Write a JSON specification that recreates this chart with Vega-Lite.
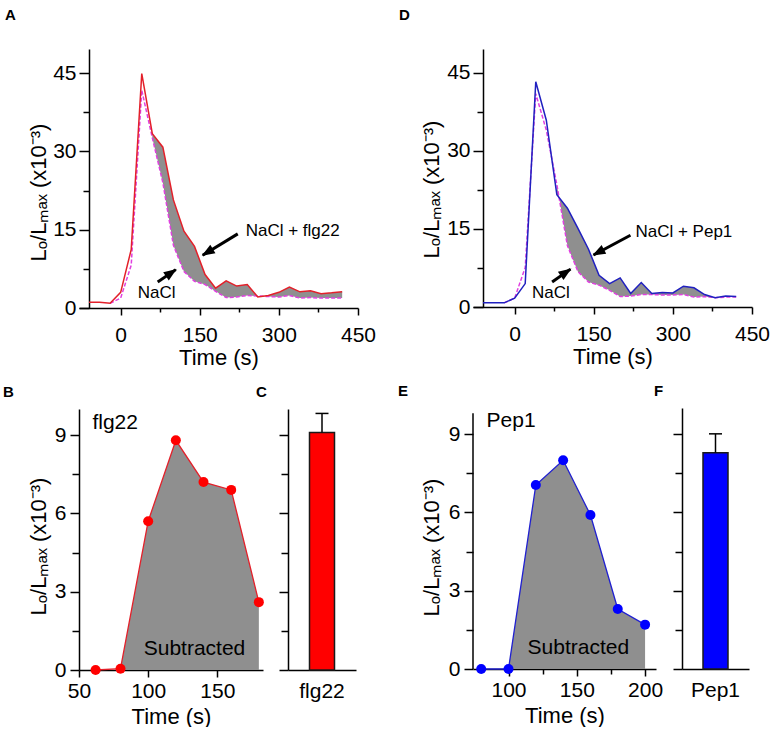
{
  "$schema": "https://vega.github.io/schema/vega-lite/v6.json",
  "background": "white",
  "padding": {"left": 3, "top": 8, "right": 0, "bottom": 0},
  "config": {
    "font": "Liberation Sans",
    "view": {"stroke": null},
    "axis": {"domainColor": "black", "domainWidth": 1.5, "tickColor": "black", "tickWidth": 1.5, "labelColor": "black", "titleColor": "black", "labelFont": "Liberation Sans", "titleFont": "Liberation Sans", "labelFontSize": 21, "titleFontSize": 22, "titleFontWeight": "normal", "grid": false, "labelFlush": false, "labelOverlap": false},
    "title": {"font": "Liberation Sans", "fontSize": 15, "fontWeight": "bold", "anchor": "start", "frame": "group", "color": "black"}
  },
  "datasets": {
    "tA": [
      {"t": -60, "treat": 1.1, "nacl": null},
      {"t": -40, "treat": 1.1, "nacl": null},
      {"t": -20, "treat": 0.9, "nacl": 0.9},
      {"t": 0, "treat": 3.0, "nacl": 1.9},
      {"t": 20, "treat": 11.2, "nacl": 8.2},
      {"t": 40, "treat": 44.9, "nacl": 41.7},
      {"t": 60, "treat": 33.4, "nacl": 32.6},
      {"t": 80, "treat": 30.8, "nacl": 24.0},
      {"t": 100, "treat": 20.7, "nacl": 12.0},
      {"t": 120, "treat": 14.7, "nacl": 7.0},
      {"t": 140, "treat": 11.8, "nacl": 5.1},
      {"t": 160, "treat": 6.4, "nacl": 4.5},
      {"t": 180, "treat": 3.8, "nacl": 3.2},
      {"t": 200, "treat": 5.2, "nacl": 2.0},
      {"t": 220, "treat": 4.2, "nacl": 2.1},
      {"t": 240, "treat": 4.5, "nacl": 2.4},
      {"t": 260, "treat": 2.1, "nacl": 2.3},
      {"t": 280, "treat": 2.4, "nacl": 2.2},
      {"t": 300, "treat": 3.0, "nacl": 2.1},
      {"t": 320, "treat": 4.0, "nacl": 2.4},
      {"t": 340, "treat": 3.1, "nacl": 1.9},
      {"t": 360, "treat": 3.3, "nacl": 2.0},
      {"t": 380, "treat": 2.75, "nacl": 1.9},
      {"t": 400, "treat": 2.9, "nacl": 1.9},
      {"t": 420, "treat": 3.1, "nacl": 1.9}
    ],
    "tD": [
      {"t": -60, "treat": 0.83, "nacl": null},
      {"t": -40, "treat": 0.8, "nacl": null},
      {"t": -20, "treat": 0.8, "nacl": 0.8},
      {"t": 0, "treat": 1.7, "nacl": 1.7},
      {"t": 20, "treat": 4.5, "nacl": 7.6},
      {"t": 40, "treat": 43.3, "nacl": 41.0},
      {"t": 60, "treat": 35.9, "nacl": 34.0},
      {"t": 80, "treat": 21.6, "nacl": 23.5},
      {"t": 100, "treat": 19.0, "nacl": 11.8},
      {"t": 120, "treat": 15.1, "nacl": 6.8},
      {"t": 140, "treat": 11.1, "nacl": 4.8},
      {"t": 160, "treat": 6.1, "nacl": 4.2},
      {"t": 180, "treat": 4.5, "nacl": 3.2},
      {"t": 200, "treat": 5.6, "nacl": 2.0},
      {"t": 220, "treat": 2.6, "nacl": 2.1},
      {"t": 240, "treat": 4.7, "nacl": 2.4},
      {"t": 260, "treat": 2.6, "nacl": 2.4},
      {"t": 280, "treat": 2.8, "nacl": 2.3},
      {"t": 300, "treat": 2.7, "nacl": 2.3},
      {"t": 320, "treat": 4.0, "nacl": 2.4},
      {"t": 340, "treat": 3.7, "nacl": 1.9},
      {"t": 360, "treat": 2.4, "nacl": 2.0},
      {"t": 380, "treat": 1.8, "nacl": 1.8},
      {"t": 400, "treat": 2.1, "nacl": 1.9},
      {"t": 420, "treat": 2.0, "nacl": 1.9}
    ],
    "sB": [
      {"t": 62, "v": 0},
      {"t": 80, "v": 0.05},
      {"t": 100, "v": 5.7},
      {"t": 120, "v": 8.8},
      {"t": 140, "v": 7.2},
      {"t": 160, "v": 6.9},
      {"t": 180, "v": 2.6}
    ],
    "sE": [
      {"t": 80, "v": 0},
      {"t": 100, "v": 0},
      {"t": 120, "v": 7.05},
      {"t": 140, "v": 8.0},
      {"t": 160, "v": 5.9},
      {"t": 180, "v": 2.3},
      {"t": 200, "v": 1.7}
    ]
  },
  "spacing": 22,
  "hconcat": [
    {
      "spacing": 17,
      "vconcat": [
        {
          "width": 279,
          "height": 259,
          "title": {"text": "A", "dx": -74, "offset": 26},
          "layer": [
            {
              "data": {"name": "tA"},
              "transform": [{"filter": "datum.t >= 60"}],
              "mark": {"type": "area", "color": "#8f8f8f", "opacity": 1},
              "encoding": {
                "x": {"field": "t", "type": "quantitative", "scale": {"domain": [-79, 450], "nice": false, "zero": false}, "axis": {"title": "Time (s)", "values": [0, 75, 150, 225, 300, 375, 450], "labelExpr": "datum.value % 150 === 0 ? datum.label : ''", "tickSize": {"condition": {"test": "datum.value % 150 === 0", "value": 7}, "value": 4}, "labelPadding": 9, "titlePadding": 2}},
                "y": {"field": "treat", "type": "quantitative", "scale": {"domain": [0, 49.6], "nice": false, "zero": false}, "axis": {"title": "Lₒ/Lₘₐₓ (x10⁻³)", "offset": -10, "titleX": -39, "titleY": 143, "values": [0, 7.5, 15, 22.5, 30, 37.5, 45], "labelExpr": "datum.value % 15 === 0 ? datum.label : ''", "tickSize": {"condition": {"test": "datum.value % 15 === 0", "value": 10}, "value": 6}, "labelPadding": 3}},
                "y2": {"field": "nacl"}
              }
            },
            {
              "data": {"name": "tA"},
              "mark": {"type": "line", "color": "#e040e0", "strokeWidth": 1.5, "strokeDash": [4, 2]},
              "encoding": {
                "x": {"field": "t", "type": "quantitative"},
                "y": {"field": "nacl", "type": "quantitative"}
              }
            },
            {
              "data": {"name": "tA"},
              "mark": {"type": "line", "color": "#e3202a", "strokeWidth": 1.5},
              "encoding": {
                "x": {"field": "t", "type": "quantitative"},
                "y": {"field": "treat", "type": "quantitative"}
              }
            },
            {
              "data": {"values": [{"t": 222, "v": 14.2, "t2": 155.5, "v2": 10.1}, {"t": 70.2, "v": 5.0, "t2": 104.5, "v2": 7.35}]},
              "mark": {"type": "rule", "color": "black", "strokeWidth": 3},
              "encoding": {
                "x": {"field": "t", "type": "quantitative"},
                "y": {"field": "v", "type": "quantitative"},
                "x2": {"field": "t2"},
                "y2": {"field": "v2"}
              }
            },
            {
              "data": {"values": [{"t": 153.8, "v": 10.0}]},
              "mark": {"type": "point", "shape": "M0,0 L0.38,1 L-0.38,1 Z", "size": 676, "filled": true, "color": "black", "opacity": 1, "angle": 238.6},
              "encoding": {
                "x": {"field": "t", "type": "quantitative"},
                "y": {"field": "v", "type": "quantitative"}
              }
            },
            {
              "data": {"values": [{"t": 106.3, "v": 7.47}]},
              "mark": {"type": "point", "shape": "M0,0 L0.38,1 L-0.38,1 Z", "size": 676, "filled": true, "color": "black", "opacity": 1, "angle": 55.6},
              "encoding": {
                "x": {"field": "t", "type": "quantitative"},
                "y": {"field": "v", "type": "quantitative"}
              }
            },
            {
              "data": {"values": [{"t": 237, "v": 14.7, "label": "NaCl + flg22"}]},
              "mark": {"type": "text", "align": "left", "baseline": "middle", "fontSize": 17, "color": "black"},
              "encoding": {
                "x": {"field": "t", "type": "quantitative"},
                "y": {"field": "v", "type": "quantitative"},
                "text": {"field": "label"}
              }
            },
            {
              "data": {"values": [{"t": 68.3, "v": 2.9, "label": "NaCl"}]},
              "mark": {"type": "text", "align": "center", "baseline": "middle", "fontSize": 17, "color": "black"},
              "encoding": {
                "x": {"field": "t", "type": "quantitative"},
                "y": {"field": "v", "type": "quantitative"},
                "text": {"field": "label"}
              }
            }
          ]
        },
        {
          "bounds": "flush",
          "spacing": 25,
          "hconcat": [
            {
              "width": 184,
              "height": 261,
              "title": {"text": "B", "dx": -76, "offset": 9},
              "layer": [
                {
                  "data": {"name": "sB"},
                  "transform": [{"filter": "datum.t >= 80"}],
                  "mark": {"type": "area", "color": "#8f8f8f", "opacity": 1},
                  "encoding": {
                    "x": {"field": "t", "type": "quantitative", "scale": {"domain": [50, 183], "nice": false, "zero": false}, "axis": {"title": "Time (s)", "values": [50, 75, 100, 125, 150, 175], "labelExpr": "datum.value % 50 === 0 ? datum.label : ''", "tickSize": {"condition": {"test": "datum.value % 50 === 0", "value": 7}, "value": 5}, "labelPadding": 3, "titlePadding": 5}},
                    "y": {"field": "v", "type": "quantitative", "scale": {"domain": [0, 10], "nice": false, "zero": false}, "axis": {"title": "Lₒ/Lₘₐₓ (x10⁻³)", "titleX": -29, "titleY": 137, "values": [0, 1.5, 3, 4.5, 6, 7.5, 9], "labelExpr": "datum.value % 3 === 0 ? datum.label : ''", "tickSize": {"condition": {"test": "datum.value % 3 === 0", "value": 9}, "value": 7}, "labelPadding": 4}},
                    "y2": {"datum": 0}
                  }
                },
                {
                  "data": {"name": "sB"},
                  "mark": {"type": "line", "color": "#e3202a", "strokeWidth": 1.3},
                  "encoding": {
                    "x": {"field": "t", "type": "quantitative"},
                    "y": {"field": "v", "type": "quantitative"}
                  }
                },
                {
                  "data": {"name": "sB"},
                  "mark": {"type": "point", "filled": true, "color": "#ff0000", "size": 100, "opacity": 1},
                  "encoding": {
                    "x": {"field": "t", "type": "quantitative"},
                    "y": {"field": "v", "type": "quantitative"}
                  }
                },
                {
                  "data": {"values": [{"t": 59.7, "v": 9.45, "label": "flg22"}]},
                  "mark": {"type": "text", "align": "left", "baseline": "middle", "fontSize": 21, "color": "black"},
                  "encoding": {
                    "x": {"field": "t", "type": "quantitative"},
                    "y": {"field": "v", "type": "quantitative"},
                    "text": {"field": "label"}
                  }
                },
                {
                  "data": {"values": [{"t": 133.5, "v": 0.8, "label": "Subtracted"}]},
                  "mark": {"type": "text", "align": "center", "baseline": "middle", "fontSize": 21, "color": "black"},
                  "encoding": {
                    "x": {"field": "t", "type": "quantitative"},
                    "y": {"field": "v", "type": "quantitative"},
                    "text": {"field": "label"}
                  }
                }
              ]
            },
            {
              "width": 68,
              "height": 261,
              "title": {"text": "C", "dx": -32, "offset": 9},
              "data": {"values": [{"g": "flg22", "mean": 9.1, "hi": 9.83}]},
              "layer": [
                {
                  "mark": {"type": "bar", "width": 25, "color": "#ff0000", "stroke": "#1a1a1a", "strokeWidth": 1.5},
                  "encoding": {
                    "x": {"field": "g", "type": "nominal", "scale": {"paddingInner": 0, "paddingOuter": 0}, "axis": {"title": null, "ticks": false, "tickSize": 0, "labelPadding": 10, "labelAngle": 0}},
                    "y": {"field": "mean", "type": "quantitative", "scale": {"domain": [0, 10], "nice": false, "zero": false}, "axis": {"title": null, "labels": false, "values": [0, 1.5, 3, 4.5, 6, 7.5, 9], "tickSize": {"condition": {"test": "datum.value % 3 === 0", "value": 9}, "value": 7}}}
                  }
                },
                {
                  "mark": {"type": "rule", "color": "black", "strokeWidth": 1.5},
                  "encoding": {
                    "x": {"field": "g", "type": "nominal"},
                    "y": {"field": "mean", "type": "quantitative"},
                    "y2": {"field": "hi"}
                  }
                },
                {
                  "mark": {"type": "tick", "orient": "horizontal", "size": 13, "thickness": 1.5, "color": "black", "opacity": 1},
                  "encoding": {
                    "x": {"field": "g", "type": "nominal"},
                    "y": {"field": "hi", "type": "quantitative"}
                  }
                }
              ]
            }
          ]
        }
      ]
    },
    {
      "spacing": 17,
      "vconcat": [
        {
          "width": 279,
          "height": 258,
          "title": {"text": "D", "dx": -74, "offset": 26},
          "layer": [
            {
              "data": {"name": "tD"},
              "transform": [{"filter": "datum.t >= 80"}],
              "mark": {"type": "area", "color": "#8f8f8f", "opacity": 1},
              "encoding": {
                "x": {"field": "t", "type": "quantitative", "scale": {"domain": [-79, 450], "nice": false, "zero": false}, "axis": {"title": "Time (s)", "values": [0, 75, 150, 225, 300, 375, 450], "labelExpr": "datum.value % 150 === 0 ? datum.label : ''", "tickSize": {"condition": {"test": "datum.value % 150 === 0", "value": 7}, "value": 4}, "labelPadding": 9, "titlePadding": 2}},
                "y": {"field": "treat", "type": "quantitative", "scale": {"domain": [0, 49.6], "nice": false, "zero": false}, "axis": {"title": "Lₒ/Lₘₐₓ (x10⁻³)", "offset": -10, "titleX": -40, "titleY": 140, "values": [0, 7.5, 15, 22.5, 30, 37.5, 45], "labelExpr": "datum.value % 15 === 0 ? datum.label : ''", "tickSize": {"condition": {"test": "datum.value % 15 === 0", "value": 10}, "value": 6}, "labelPadding": 3}},
                "y2": {"field": "nacl"}
              }
            },
            {
              "data": {"name": "tD"},
              "mark": {"type": "line", "color": "#e040e0", "strokeWidth": 1.5, "strokeDash": [4, 2]},
              "encoding": {
                "x": {"field": "t", "type": "quantitative"},
                "y": {"field": "nacl", "type": "quantitative"}
              }
            },
            {
              "data": {"name": "tD"},
              "mark": {"type": "line", "color": "#2020c0", "strokeWidth": 1.5},
              "encoding": {
                "x": {"field": "t", "type": "quantitative"},
                "y": {"field": "treat", "type": "quantitative"}
              }
            },
            {
              "data": {"values": [{"t": 219.5, "v": 13.8, "t2": 149.5, "v2": 10.0}, {"t": 71, "v": 4.8, "t2": 105.8, "v2": 7.28}]},
              "mark": {"type": "rule", "color": "black", "strokeWidth": 3},
              "encoding": {
                "x": {"field": "t", "type": "quantitative"},
                "y": {"field": "v", "type": "quantitative"},
                "x2": {"field": "t2"},
                "y2": {"field": "v2"}
              }
            },
            {
              "data": {"values": [{"t": 147.4, "v": 9.9}]},
              "mark": {"type": "point", "shape": "M0,0 L0.38,1 L-0.38,1 Z", "size": 676, "filled": true, "color": "black", "opacity": 1, "angle": 242.2},
              "encoding": {
                "x": {"field": "t", "type": "quantitative"},
                "y": {"field": "v", "type": "quantitative"}
              }
            },
            {
              "data": {"values": [{"t": 107.6, "v": 7.4}]},
              "mark": {"type": "point", "shape": "M0,0 L0.38,1 L-0.38,1 Z", "size": 676, "filled": true, "color": "black", "opacity": 1, "angle": 55.4},
              "encoding": {
                "x": {"field": "t", "type": "quantitative"},
                "y": {"field": "v", "type": "quantitative"}
              }
            },
            {
              "data": {"values": [{"t": 229, "v": 14.4, "label": "NaCl + Pep1"}]},
              "mark": {"type": "text", "align": "left", "baseline": "middle", "fontSize": 17, "color": "black"},
              "encoding": {
                "x": {"field": "t", "type": "quantitative"},
                "y": {"field": "v", "type": "quantitative"},
                "text": {"field": "label"}
              }
            },
            {
              "data": {"values": [{"t": 68.7, "v": 2.7, "label": "NaCl"}]},
              "mark": {"type": "text", "align": "center", "baseline": "middle", "fontSize": 17, "color": "black"},
              "encoding": {
                "x": {"field": "t", "type": "quantitative"},
                "y": {"field": "v", "type": "quantitative"},
                "text": {"field": "label"}
              }
            }
          ]
        },
        {
          "bounds": "flush",
          "spacing": 26,
          "hconcat": [
            {
              "width": 183,
              "height": 261,
              "title": {"text": "E", "dx": -75, "offset": 9},
              "layer": [
                {
                  "data": {"name": "sE"},
                  "transform": [{"filter": "datum.t >= 100"}],
                  "mark": {"type": "area", "color": "#8f8f8f", "opacity": 1},
                  "encoding": {
                    "x": {"field": "t", "type": "quantitative", "scale": {"domain": [74, 208], "nice": false, "zero": false}, "axis": {"title": "Time (s)", "values": [100, 125, 150, 175, 200], "labelExpr": "datum.value % 50 === 0 ? datum.label : ''", "tickSize": {"condition": {"test": "datum.value % 50 === 0", "value": 7}, "value": 5}, "labelPadding": 3, "titlePadding": 5}},
                    "y": {"field": "v", "type": "quantitative", "scale": {"domain": [0, 10], "nice": false, "zero": false}, "axis": {"title": "Lₒ/Lₘₐₓ (x10⁻³)", "domain": false, "titleX": -30, "titleY": 139, "values": [0, 1.5, 3, 4.5, 6, 7.5, 9], "labelExpr": "datum.value % 3 === 0 ? datum.label : ''", "tickSize": {"condition": {"test": "datum.value % 3 === 0", "value": 9}, "value": 7}, "labelPadding": 4}},
                    "y2": {"datum": 0}
                  }
                },
                {
                  "data": {"values": [{"t": 74, "v": 0, "v2": 9.8}]},
                  "mark": {"type": "rule", "color": "black", "strokeWidth": 1.5},
                  "encoding": {
                    "x": {"field": "t", "type": "quantitative"},
                    "y": {"field": "v", "type": "quantitative"},
                    "y2": {"field": "v2"}
                  }
                },
                {
                  "data": {"name": "sE"},
                  "mark": {"type": "line", "color": "#2020d0", "strokeWidth": 1.3},
                  "encoding": {
                    "x": {"field": "t", "type": "quantitative"},
                    "y": {"field": "v", "type": "quantitative"}
                  }
                },
                {
                  "data": {"name": "sE"},
                  "mark": {"type": "point", "filled": true, "color": "#0000ff", "size": 100, "opacity": 1},
                  "encoding": {
                    "x": {"field": "t", "type": "quantitative"},
                    "y": {"field": "v", "type": "quantitative"}
                  }
                },
                {
                  "data": {"values": [{"t": 83.9, "v": 9.5, "label": "Pep1"}]},
                  "mark": {"type": "text", "align": "left", "baseline": "middle", "fontSize": 21, "color": "black"},
                  "encoding": {
                    "x": {"field": "t", "type": "quantitative"},
                    "y": {"field": "v", "type": "quantitative"},
                    "text": {"field": "label"}
                  }
                },
                {
                  "data": {"values": [{"t": 151.1, "v": 0.8, "label": "Subtracted"}]},
                  "mark": {"type": "text", "align": "center", "baseline": "middle", "fontSize": 21, "color": "black"},
                  "encoding": {
                    "x": {"field": "t", "type": "quantitative"},
                    "y": {"field": "v", "type": "quantitative"},
                    "text": {"field": "label"}
                  }
                }
              ]
            },
            {
              "width": 67,
              "height": 261,
              "title": {"text": "F", "dx": -28, "offset": 9},
              "data": {"values": [{"g": "Pep1", "mean": 8.29, "hi": 9.01}]},
              "layer": [
                {
                  "mark": {"type": "bar", "width": 25, "color": "#0000ff", "stroke": "#1a1a1a", "strokeWidth": 1.5},
                  "encoding": {
                    "x": {"field": "g", "type": "nominal", "scale": {"paddingInner": 0, "paddingOuter": 0}, "axis": {"title": null, "ticks": false, "tickSize": 0, "labelPadding": 10, "labelAngle": 0}},
                    "y": {"field": "mean", "type": "quantitative", "scale": {"domain": [0, 10], "nice": false, "zero": false}, "axis": {"title": null, "labels": false, "values": [0, 1.5, 3, 4.5, 6, 7.5, 9], "tickSize": {"condition": {"test": "datum.value % 3 === 0", "value": 9}, "value": 7}}}
                  }
                },
                {
                  "mark": {"type": "rule", "color": "black", "strokeWidth": 1.5},
                  "encoding": {
                    "x": {"field": "g", "type": "nominal"},
                    "y": {"field": "mean", "type": "quantitative"},
                    "y2": {"field": "hi"}
                  }
                },
                {
                  "mark": {"type": "tick", "orient": "horizontal", "size": 13, "thickness": 1.5, "color": "black", "opacity": 1},
                  "encoding": {
                    "x": {"field": "g", "type": "nominal"},
                    "y": {"field": "hi", "type": "quantitative"}
                  }
                }
              ]
            }
          ]
        }
      ]
    }
  ]
}
